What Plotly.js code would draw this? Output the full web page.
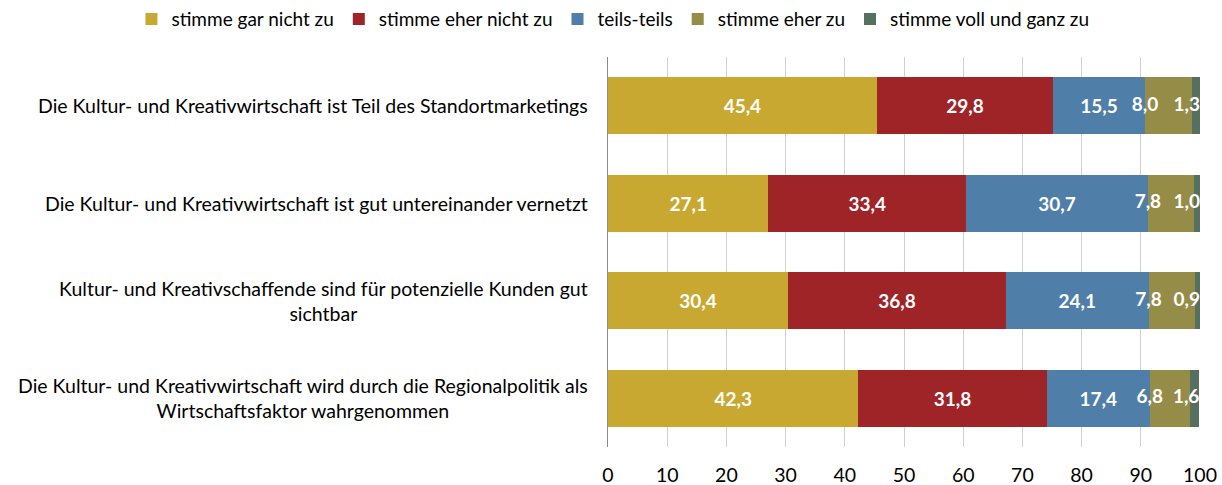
<!DOCTYPE html>
<html>
<head>
<meta charset="utf-8">
<script src="https://cdn.plot.ly/plotly-3.0.1.min.js"></script>
<style>html,body{margin:0;padding:0;background:#fff}#chart{width:1222px;height:485px}</style>
</head>
<body>
<div id="chart"></div>
<script>
const categories = [
  "Die Kultur- und Kreativwirtschaft ist Teil des Standortmarketings",
  "Die Kultur- und Kreativwirtschaft ist gut untereinander vernetzt",
  "Kultur- und Kreativschaffende sind für potenzielle Kunden gut<br>sichtbar",
  "Die Kultur- und Kreativwirtschaft wird durch die Regionalpolitik als<br>Wirtschaftsfaktor wahrgenommen"
];
const seriesNames = ["stimme gar nicht zu", "stimme eher nicht zu", "teils-teils", "stimme eher zu", "stimme voll und ganz zu"];
const garNicht = [45.4, 27.1, 30.4, 42.3];
const eherNicht = [29.8, 33.4, 36.8, 31.8];
const teils = [15.5, 30.7, 24.1, 17.4];
const eherZu = [8.0, 7.8, 7.8, 6.8];
const vollGanz = [1.3, 1.0, 0.9, 1.6];
const xTicks = [0, 10, 20, 30, 40, 50, 60, 70, 80, 90, 100];

const colors = ["#C9A831", "#9E2428", "#4F7EA8", "#958C48", "#567060"];
const FONT = "Lato, 'Open Sans', sans-serif";
const fmt = v => v.toFixed(1).replace('.', ',');
const series = [garNicht, eherNicht, teils, eherZu, vollGanz];
const ids = categories.map((c, i) => "c" + i);
const labelFont = {family: FONT, size: 19, color: '#ffffff', weight: 'bold'};

const traces = series.map((vals, k) => ({
  type: 'bar', orientation: 'h', name: seriesNames[k],
  y: ids, x: vals,
  marker: {color: colors[k], line: {width: 0}},
  text: k < 3 ? vals.map(fmt) : undefined,
  textposition: k < 3 ? 'inside' : 'none',
  insidetextanchor: 'middle',
  constraintext: 'none', textangle: 0,
  textfont: labelFont,
  hoverinfo: 'x+name'
}));

// label positions for the small segments, derived from the data
const start4 = ids.map((c, i) => garNicht[i] + eherNicht[i] + teils[i]);
const end5 = ids.map((c, i) => start4[i] + eherZu[i] + vollGanz[i]);
traces.push({
  type: 'scatter', mode: 'text', y: ids, x: start4, text: eherZu.map(fmt),
  textposition: 'middle center', showlegend: false, hoverinfo: 'skip',
  textfont: labelFont
});
traces.push({
  type: 'scatter', mode: 'text', y: ids, x: end5, text: vollGanz.map(fmt),
  textposition: 'middle left', showlegend: false, hoverinfo: 'skip',
  textfont: labelFont
});

const annotations = categories.map((c, i) => ({
  xref: 'paper', yref: 'y', x: 0, y: ids[i], xanchor: 'right', yanchor: 'middle',
  xshift: -18, text: c, align: 'center', showarrow: false,
  font: {family: FONT, size: 19.5, color: '#000000'}
}));

const layout = {
  width: 1222, height: 485,
  margin: {l: 608, r: 22, t: 57, b: 38, autoexpand: false},
  barmode: 'stack', bargap: 0.42,
  paper_bgcolor: '#fff', plot_bgcolor: '#fff',
  font: {family: FONT, color: '#000'},
  showlegend: true,
  legend: {orientation: 'h', xref: 'paper', yref: 'paper', x: -0.805, xanchor: 'left',
    y: 1.097, yanchor: 'middle',
    font: {family: FONT, size: 19, color: '#000'}, traceorder: 'normal',
    itemwidth: 30, bgcolor: 'rgba(0,0,0,0)'},
  xaxis: {range: [0, 100], tickvals: xTicks, ticktext: xTicks.map(String),
    showgrid: true, gridcolor: '#d0d0d0', gridwidth: 1, zeroline: false, showline: false,
    ticks: '', ticklabelstandoff: 14, tickfont: {family: FONT, size: 19.5, color: '#000'}, fixedrange: true},
  yaxis: {type: 'category', autorange: 'reversed', showticklabels: false, showgrid: false,
    showline: true, linecolor: '#8c8c8c', linewidth: 1, ticks: '', zeroline: false},
  annotations: annotations
};

Plotly.newPlot('chart', traces, layout, {displayModeBar: false, staticPlot: true});
</script>
</body>
</html>
